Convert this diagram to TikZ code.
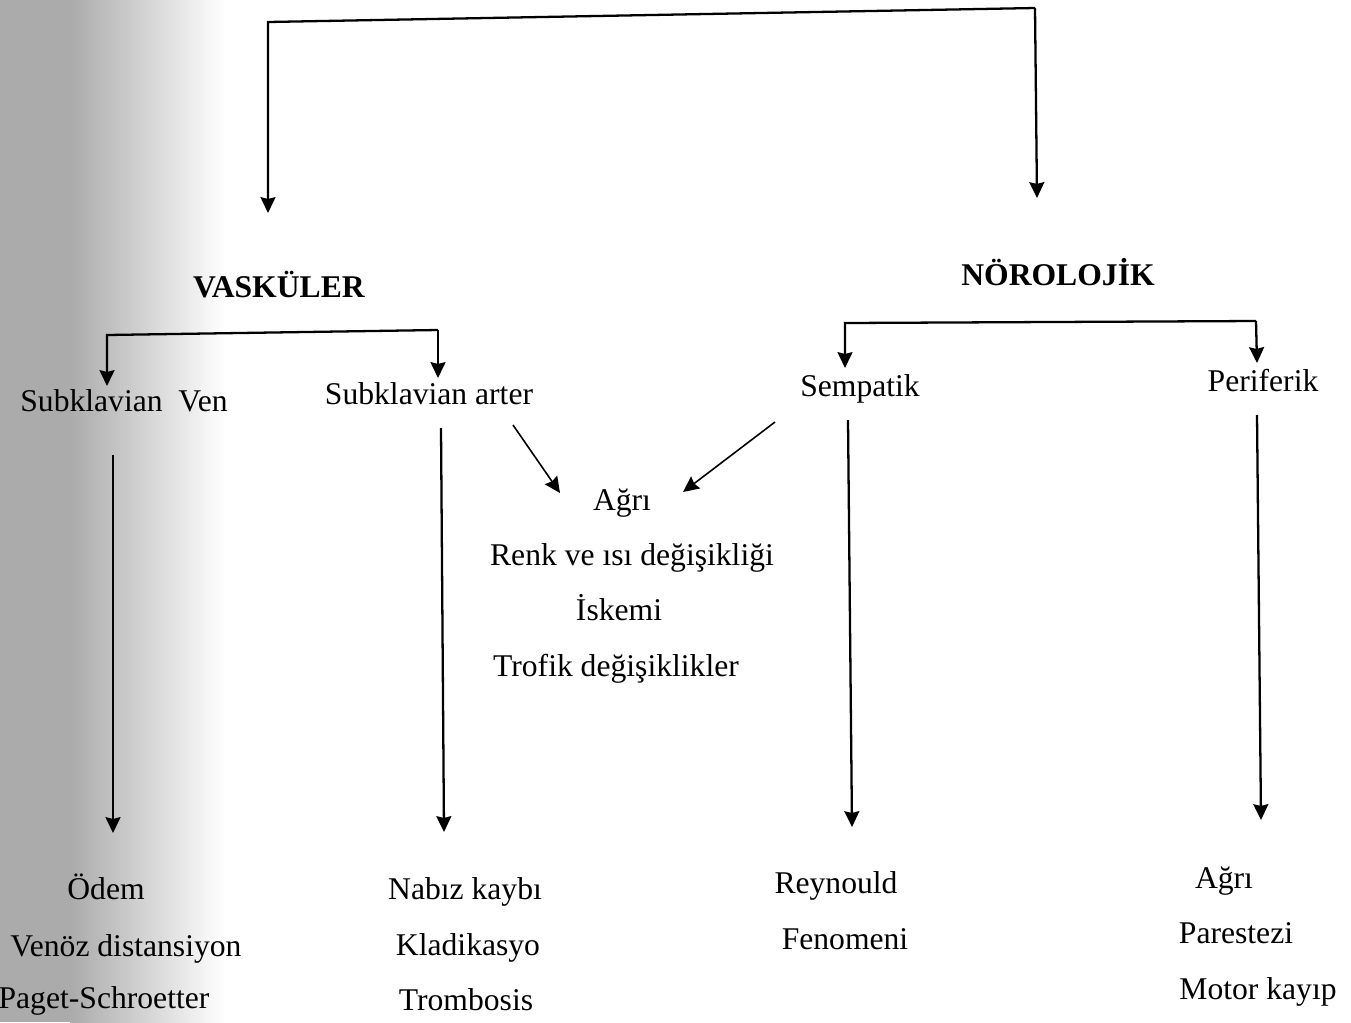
\documentclass[tikz,border=0pt]{standalone}
\usepackage{fontspec}
\setmainfont{Liberation Serif}
\usetikzlibrary{arrows.meta}

\begin{document}
\begin{tikzpicture}[x=0.02cm, y=-0.02cm,
    >={Stealth[length=9pt,width=8.5pt,inset=1pt]},
    every node/.style={font=\fontsize{18}{22}\selectfont, inner sep=0pt, anchor=base},
    line/.style={line width=1.3pt},
    thinline/.style={line width=0.9pt}]
            \useasboundingbox (0,0) rectangle (1351,1022);
            \fill[black!33] (0,0) rectangle (70,1022);
            \shade[left color=black!33, right color=white] (70,0) rectangle (225,1022);
            % headings
            \node (vask) at (279,297) {\textbf{VASKÜLER}};
            \node (noro) at (1058,285) {\textbf{NÖROLOJİK}};
            \coordinate (topl) at (268,22);
            \coordinate (topr) at (1035,8);
            \coordinate (vaskin) at (268,213);
            \coordinate (noroin) at (1037,198);
            \draw [line,->] (topr) -- (topl) -- (vaskin);
            \draw [line,->] (topr) -- (noroin);
            % second level
            \node (subven) at (124,411) {Subklavian\ \ Ven};
            \node (subart) at (429,404) {Subklavian arter};
            \node (semp) at (860,396) {Sempatik};
            \node (perif) at (1263,391) {Periferik};
            \coordinate (vl) at (107,335);
            \coordinate (vr) at (438,330);
            \draw [line,->] (vr) -- (vl) -- (107,386);
            \draw [line,->] (vr) -- (438,378);
            \coordinate (nl) at (845,323);
            \coordinate (nr) at (1256,321);
            \draw [line,->] (nr) -- (nl) -- (845,368);
            \draw [line,->] (nr) -- (1257,363);
            % common signs
            \node (agri) at (622,510) {Ağrı};
            \node (renk) at (632,565) {Renk ve ısı değişikliği};
            \node (iskemi) at (619,620) {İskemi};
            \node (trofik) at (616,676) {Trofik değişiklikler};
            \coordinate (artd) at (513,425);
            \coordinate (sempd) at (775,422);
            \draw [thinline,->] (artd) -- (560,493);
            \draw [thinline,->] (sempd) -- (683,492);
            % long arrows
            \coordinate (ven0) at (113,455);
            \coordinate (art0) at (441,428);
            \coordinate (semp0) at (848,420);
            \coordinate (perif0) at (1257,415);
            \coordinate (ven1) at (113,833);
            \coordinate (art1) at (444,832);
            \coordinate (semp1) at (852,827);
            \coordinate (perif1) at (1261,820);
            \draw [line,->] (ven0) -- (ven1);
            \draw [line,->] (art0) -- (art1);
            \draw [line,->] (semp0) -- (semp1);
            \draw [line,->] (perif0) -- (perif1);
            % bottom lists
            \node (odem) at (106,899) {Ödem};
            \node (venoz) at (126,956) {Venöz distansiyon};
            \node (paget) at (104,1008) {Paget-Schroetter};
            \node (nabiz) at (465,899) {Nabız kaybı};
            \node (kladi) at (468,955) {Kladikasyo};
            \node (tromb) at (466,1010) {Trombosis};
            \node (reyn) at (836,893) {Reynould};
            \node (fenom) at (845,949) {Fenomeni};
            \node (pagri) at (1224,888) {Ağrı};
            \node (pares) at (1236,943) {Parestezi};
            \node (motor) at (1258,999) {Motor kayıp};
\end{tikzpicture}
\end{document}
